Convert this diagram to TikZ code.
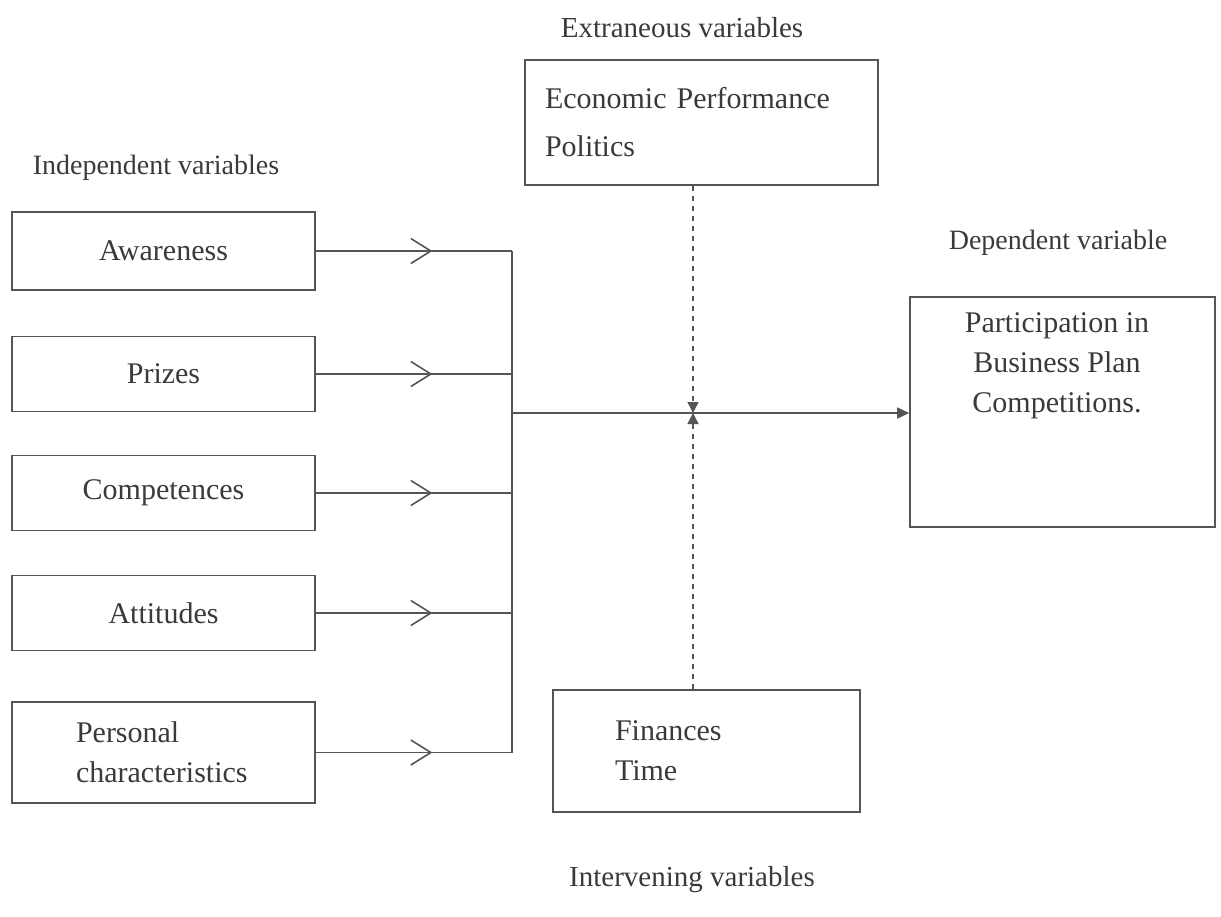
\documentclass[tikz,border=0pt]{standalone}
\usepackage{fontspec}
\setmainfont{Liberation Serif}
\usetikzlibrary{arrows.meta,decorations.markings}
\definecolor{ink}{HTML}{3A3A3A}
\definecolor{wire}{HTML}{555555}
\tikzset{
  box/.style={draw=wire, line width=1.6pt, rectangle, inner sep=0pt, text=ink,
    font=\fontsize{30}{40}\selectfont},
  lbl/.style={text=ink, inner sep=0pt, font=\fontsize{28}{34}\selectfont},
  txt/.style={text=ink, inner sep=0pt, font=\fontsize{30}{40}\selectfont},
  wirel/.style={draw=wire, line width=1.6pt},
  chev/.style={postaction={decorate}, decoration={markings,
    mark=at position 0.594 with {\arrow[wire, line width=1.6pt]{Straight Barb[length=20pt,width=25pt]}}}},
}
\begin{document}
\begin{tikzpicture}[x=1pt,y=-1pt]
\useasboundingbox[fill=white] (0,0) rectangle (1221,916);

% labels
\node[lbl] (lind) at (156,168) {Independent variables};
\node[lbl, font=\fontsize{29}{34}\selectfont] (lext) at (682,28) {Extraneous variables};
\node[lbl] (ldep) at (1058,243) {Dependent variable};
\node[lbl, font=\fontsize{29}{34}\selectfont] (lint) at (692,880) {Intervening variables};

% independent boxes
\node[box, minimum width=303pt, minimum height=78pt] (aw) at (163.5,251) {Awareness};
\node[box, minimum width=303pt, minimum height=75pt] (pr) at (163.5,374) {Prizes};
\node[box, minimum width=303pt, minimum height=75pt] (co) at (163.5,493) {Competences};
\node[box, minimum width=303pt, minimum height=75pt] (at) at (163.5,613) {Attitudes};
\node[box, minimum width=303pt, minimum height=101pt, align=left,
      text width=175pt, inner xsep=64pt] (pc) at (163.5,752.5) {Personal\\characteristics};

% extraneous box
\node[box, minimum width=353pt, minimum height=125pt, align=left,
      text width=313pt, inner xsep=20pt,
      font=\fontsize{30}{48}\selectfont] (ext) at (701.5,122.5) {\mbox{Economic Performance}\\Politics};

% intervening box
\node[box, minimum width=307pt, minimum height=122pt, align=left,
      text width=183pt, inner xsep=62pt] (int) at (706.5,751) {Finances\\Time};

% dependent box
\node[box, minimum width=305pt, minimum height=230pt] (dep) at (1062.5,412) {};
\node[txt, align=center, anchor=north] (deptxt) at (1057,312)
  {Participation in\\Business Plan\\Competitions.};

% junctions
\coordinate (j1) at (512,251);
\coordinate (j2) at (512,374);
\coordinate (j3) at (512,493);
\coordinate (j4) at (512,613);
\coordinate (j5) at (512,752.5);
\coordinate (jm) at (512,413);
\coordinate (x) at (693,413);

\draw[wirel, chev] (aw.east) -- (j1);
\draw[wirel, chev] (pr.east) -- (j2);
\draw[wirel, chev] (co.east) -- (j3);
\draw[wirel, chev] (at.east) -- (j4);
\draw[wirel, chev] (pc.east) -- (j5);
\draw[wirel] (j1) -- (j5);
\draw[wirel, -{Triangle[length=12pt,width=11pt]}] (jm) -- (dep.west |- jm);

\draw[wire, line width=1.4pt, dash pattern=on 5pt off 5pt, -{Triangle[length=11pt,width=11pt]}] (ext.south -| x) -- (x);
\draw[wire, line width=1.4pt, dash pattern=on 5pt off 5pt, -{Triangle[length=11pt,width=11pt]}] (int.north -| x) -- (x);
\end{tikzpicture}
\end{document}
